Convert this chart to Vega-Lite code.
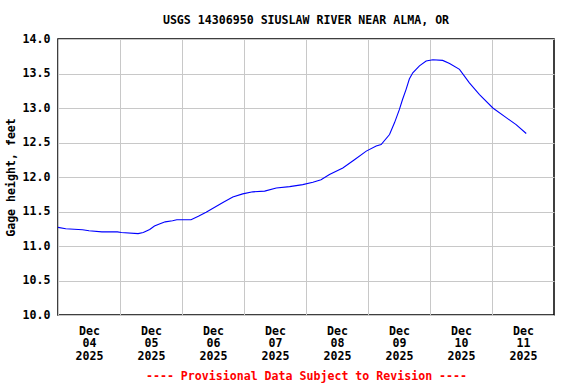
{
  "$schema": "https://vega.github.io/schema/vega-lite/v6.json",
  "width": 496,
  "height": 276,
  "autosize": {"type": "none"},
  "padding": {"left": 58, "top": 39, "right": 22, "bottom": 69},
  "background": "white",
  "title": {
    "text": "USGS 14306950 SIUSLAW RIVER NEAR ALMA, OR",
    "font": "DejaVu Sans Mono",
    "fontSize": 11.6,
    "fontWeight": "bold",
    "color": "black",
    "anchor": "middle",
    "offset": 6
  },
  "config": {
    "view": {"stroke": "black", "strokeWidth": 1.5},
    "axis": {
      "labelFont": "DejaVu Sans Mono",
      "labelFontWeight": "bold",
      "labelFontSize": 11.6,
      "labelColor": "black",
      "titleFont": "DejaVu Sans Mono",
      "titleFontWeight": "bold",
      "titleFontSize": 11.6,
      "gridColor": "#c8c8c8",
      "gridWidth": 1,
      "gridOpacity": 1,
      "ticks": false,
      "domain": false
    }
  },
  "data": {
    "values": [
      {"time": "2025-12-04T00:00", "gage": 11.27},
      {"time": "2025-12-04T03:00", "gage": 11.25},
      {"time": "2025-12-04T09:30", "gage": 11.235},
      {"time": "2025-12-04T12:00", "gage": 11.22},
      {"time": "2025-12-04T17:00", "gage": 11.205},
      {"time": "2025-12-04T23:00", "gage": 11.205},
      {"time": "2025-12-05T00:30", "gage": 11.195},
      {"time": "2025-12-05T07:00", "gage": 11.18},
      {"time": "2025-12-05T09:00", "gage": 11.195},
      {"time": "2025-12-05T11:30", "gage": 11.24},
      {"time": "2025-12-05T13:20", "gage": 11.29},
      {"time": "2025-12-05T15:15", "gage": 11.32},
      {"time": "2025-12-05T17:30", "gage": 11.35},
      {"time": "2025-12-05T20:20", "gage": 11.365},
      {"time": "2025-12-05T22:00", "gage": 11.38},
      {"time": "2025-12-06T03:30", "gage": 11.38},
      {"time": "2025-12-06T06:20", "gage": 11.43},
      {"time": "2025-12-06T09:20", "gage": 11.49},
      {"time": "2025-12-06T15:50", "gage": 11.63},
      {"time": "2025-12-06T19:40", "gage": 11.71},
      {"time": "2025-12-06T23:30", "gage": 11.755},
      {"time": "2025-12-07T03:25", "gage": 11.785},
      {"time": "2025-12-07T08:00", "gage": 11.795},
      {"time": "2025-12-07T12:30", "gage": 11.84},
      {"time": "2025-12-07T17:40", "gage": 11.86},
      {"time": "2025-12-07T22:45", "gage": 11.89},
      {"time": "2025-12-08T02:40", "gage": 11.925},
      {"time": "2025-12-08T05:50", "gage": 11.96},
      {"time": "2025-12-08T09:05", "gage": 12.035},
      {"time": "2025-12-08T14:15", "gage": 12.13},
      {"time": "2025-12-08T18:45", "gage": 12.25},
      {"time": "2025-12-08T23:20", "gage": 12.375},
      {"time": "2025-12-09T03:10", "gage": 12.45},
      {"time": "2025-12-09T05:05", "gage": 12.47},
      {"time": "2025-12-09T08:20", "gage": 12.615},
      {"time": "2025-12-09T10:15", "gage": 12.785},
      {"time": "2025-12-09T12:10", "gage": 12.98},
      {"time": "2025-12-09T13:20", "gage": 13.12},
      {"time": "2025-12-09T14:45", "gage": 13.27},
      {"time": "2025-12-09T16:00", "gage": 13.42},
      {"time": "2025-12-09T17:20", "gage": 13.51},
      {"time": "2025-12-09T19:55", "gage": 13.61},
      {"time": "2025-12-09T22:30", "gage": 13.68},
      {"time": "2025-12-10T01:05", "gage": 13.70},
      {"time": "2025-12-10T04:55", "gage": 13.69},
      {"time": "2025-12-10T07:35", "gage": 13.645},
      {"time": "2025-12-10T11:25", "gage": 13.56},
      {"time": "2025-12-10T15:15", "gage": 13.365},
      {"time": "2025-12-10T19:10", "gage": 13.195},
      {"time": "2025-12-11T00:20", "gage": 13.0},
      {"time": "2025-12-11T05:30", "gage": 12.86},
      {"time": "2025-12-11T09:20", "gage": 12.76},
      {"time": "2025-12-11T13:15", "gage": 12.63}
    ]
  },
  "mark": {"type": "line", "color": "#0000ff", "strokeWidth": 1.1, "interpolate": "linear"},
  "encoding": {
    "x": {
      "field": "time",
      "type": "temporal",
      "scale": {
        "domain": [
          {"year": 2025, "month": 12, "date": 4},
          {"year": 2025, "month": 12, "date": 12}
        ]
      },
      "axis": {
        "title": "---- Provisional Data Subject to Revision ----",
        "titleColor": "#ff0000",
        "titlePadding": 9,
        "values": [
          {"year": 2025, "month": 12, "date": 4},
          {"year": 2025, "month": 12, "date": 5},
          {"year": 2025, "month": 12, "date": 6},
          {"year": 2025, "month": 12, "date": 7},
          {"year": 2025, "month": 12, "date": 8},
          {"year": 2025, "month": 12, "date": 9},
          {"year": 2025, "month": 12, "date": 10},
          {"year": 2025, "month": 12, "date": 11}
        ],
        "labelExpr": "[timeFormat(datum.value, '%b'), timeFormat(datum.value, '%d'), timeFormat(datum.value, '%Y')]",
        "labelOffset": 31,
        "labelAlign": "center",
        "labelLineHeight": 12.5,
        "labelPadding": 10,
        "labelFlush": false,
        "labelOverlap": false
      }
    },
    "y": {
      "field": "gage",
      "type": "quantitative",
      "scale": {"domain": [10, 14], "nice": false, "zero": false},
      "axis": {
        "title": "Gage height, feet",
        "values": [10, 10.5, 11, 11.5, 12, 12.5, 13, 13.5, 14],
        "format": ".1f",
        "labelPadding": 8,
        "titlePadding": 6
      }
    }
  }
}
